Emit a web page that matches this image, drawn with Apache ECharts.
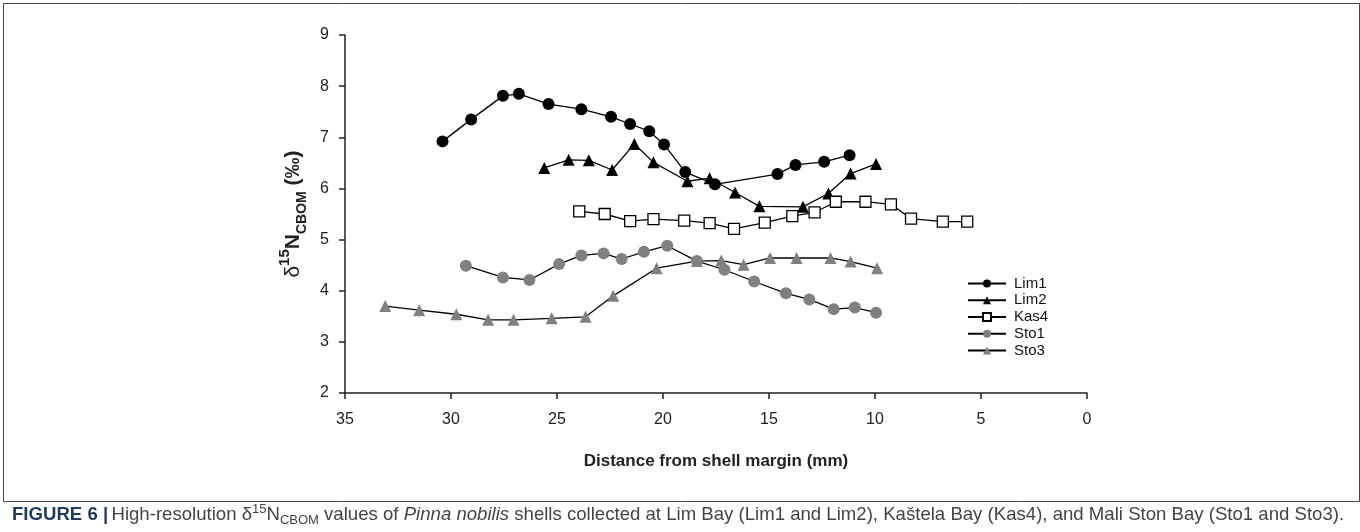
<!DOCTYPE html>
<html>
<head>
<meta charset="UTF-8">
<title>Pinna nobilis d15N</title>
<script src="https://cdn.jsdelivr.net/npm/echarts@6/dist/echarts.min.js"></script>
<style>
  html, body { margin: 0; padding: 0; background: #fff; }
  #main { width: 1360px; height: 532px; }
</style>
</head>
<body>
<div id="main"></div>
<script>
// distance from shell margin (mm) and d15N values
var lim1X = [30.4, 29.05, 27.55, 26.8, 25.4, 23.85, 22.45, 21.55, 20.65, 19.95, 18.95, 17.55, 14.6, 13.75, 12.4, 11.2];
var lim1Y = [6.92, 7.35, 7.81, 7.85, 7.65, 7.55, 7.40, 7.26, 7.12, 6.86, 6.32, 6.08, 6.28, 6.46, 6.52, 6.65];

var lim2X = [25.6, 24.45, 23.5, 22.4, 21.35, 20.45, 18.85, 17.8, 16.6, 15.45, 13.4, 12.2, 11.15, 9.95];
var lim2Y = [6.40, 6.56, 6.55, 6.36, 6.87, 6.51, 6.14, 6.20, 5.92, 5.65, 5.64, 5.90, 6.29, 6.48];

var kas4X = [23.95, 22.75, 21.55, 20.45, 19.0, 17.8, 16.65, 15.2, 13.9, 12.85, 11.85, 10.45, 9.25, 8.3, 6.8, 5.65];
var kas4Y = [5.55, 5.50, 5.36, 5.40, 5.37, 5.32, 5.21, 5.33, 5.46, 5.53, 5.74, 5.74, 5.69, 5.41, 5.35, 5.35];

var sto1X = [29.3, 27.55, 26.3, 24.9, 23.85, 22.8, 21.95, 20.9, 19.8, 18.4, 17.1, 15.7, 14.2, 13.1, 11.95, 10.95, 9.95];
var sto1Y = [4.49, 4.26, 4.21, 4.52, 4.69, 4.73, 4.62, 4.76, 4.88, 4.58, 4.41, 4.18, 3.95, 3.83, 3.64, 3.67, 3.57];

var sto3X = [33.1, 31.5, 29.75, 28.25, 27.05, 25.25, 23.65, 22.35, 20.3, 18.4, 17.25, 16.2, 14.95, 13.7, 12.1, 11.15, 9.9];
var sto3Y = [3.70, 3.62, 3.54, 3.43, 3.43, 3.46, 3.49, 3.90, 4.44, 4.58, 4.59, 4.51, 4.64, 4.64, 4.64, 4.57, 4.44];

function pairs(xs, ys) {
    return xs.map(function (x, i) { return [x, ys[i]]; });
}

var myChart = echarts.init(document.getElementById('main'));

var lineStyle = { color: '#000', width: 1.3 };

var option = {
    animation: false,
    textStyle: { fontFamily: 'Liberation Sans, Arial, sans-serif' },
    grid: { left: 345, right: 273, top: 35, bottom: 139, containLabel: false },
    legend: {
        orient: 'vertical',
        left: 962,
        top: 270,
        itemWidth: 38,
        itemHeight: 10,
        itemGap: 0,
        textStyle: { fontSize: 15, color: '#111', lineHeight: 16.8, padding: [0, 0, 0, 3] },
        data: ['Lim1', 'Lim2', 'Kas4', 'Sto1', 'Sto3']
    },
    xAxis: {
        type: 'value',
        inverse: true,
        min: 0,
        max: 35,
        interval: 5,
        splitLine: { show: false },
        axisLine: { onZero: false, lineStyle: { color: '#222', width: 1.5 } },
        axisTick: { length: 6, lineStyle: { color: '#222', width: 1.5 } },
        axisLabel: { fontSize: 16, color: '#222', margin: 19 },
        name: 'Distance from shell margin (mm)',
        nameLocation: 'middle',
        nameGap: 60,
        nameTextStyle: { fontSize: 17, fontWeight: 'bold', color: '#222' }
    },
    yAxis: {
        type: 'value',
        min: 2,
        max: 9,
        interval: 1,
        splitLine: { show: false },
        axisLine: { onZero: false, lineStyle: { color: '#222', width: 1.5 } },
        axisTick: { length: 6, lineStyle: { color: '#222', width: 1.5 } },
        axisLabel: { fontSize: 16, color: '#222', margin: 16 },
        name: '{d|δ}{sup|15}{b|N}{sub|CBOM}{b| (‰)}',
        nameLocation: 'middle',
        nameRotate: 90,
        nameGap: 34,
        nameTextStyle: {
            color: '#222',
            rich: {
                d: { fontSize: 21, color: '#222', lineHeight: 32, verticalAlign: 'middle' },
                sup: { fontSize: 15, fontWeight: 'bold', color: '#222', verticalAlign: 'top', lineHeight: 32 },
                b: { fontSize: 21, fontWeight: 'bold', color: '#222', lineHeight: 32, verticalAlign: 'middle' },
                sub: { fontSize: 14, fontWeight: 'bold', color: '#222', verticalAlign: 'bottom', lineHeight: 32 }
            }
        }
    },
    series: [
        {
            name: 'Lim1', type: 'line', data: pairs(lim1X, lim1Y),
            symbol: 'circle', symbolSize: 12,
            itemStyle: { color: '#000' }, lineStyle: lineStyle
        },
        {
            name: 'Lim2', type: 'line', data: pairs(lim2X, lim2Y),
            symbol: 'triangle', symbolSize: 12,
            itemStyle: { color: '#000' }, lineStyle: lineStyle
        },
        {
            name: 'Kas4', type: 'line', data: pairs(kas4X, kas4Y),
            symbol: 'rect', symbolSize: 11,
            itemStyle: { color: '#fff', borderColor: '#000', borderWidth: 1.3 }, lineStyle: lineStyle
        },
        {
            name: 'Sto1', type: 'line', data: pairs(sto1X, sto1Y),
            symbol: 'circle', symbolSize: 12,
            itemStyle: { color: '#808080' }, lineStyle: lineStyle
        },
        {
            name: 'Sto3', type: 'line', data: pairs(sto3X, sto3Y),
            symbol: 'triangle', symbolSize: 12,
            itemStyle: { color: '#808080' }, lineStyle: lineStyle
        }
    ],
    graphic: [
        {
            type: 'rect', left: 1, top: 1, silent: true,
            shape: { width: 1356, height: 498 },
            style: { fill: 'none', stroke: '#444', lineWidth: 1 }
        },
        {
            type: 'text', left: 12, top: 503, silent: true,
            style: {
                text: '{f|FIGURE 6 |} {t|High-resolution δ}{s|15}{t|N}{u|CBOM}{t| values of }{i|Pinna nobilis}{t| shells collected at Lim Bay (Lim1 and Lim2), Kaštela Bay (Kas4), and Mali Ston Bay (Sto1 and Sto3).}',
                rich: {
                    f: { fontSize: 18.6, fontWeight: 'bold', fill: '#1f3a5f', lineHeight: 24, verticalAlign: 'middle' },
                    t: { fontSize: 18.6, fill: '#444', lineHeight: 24, verticalAlign: 'middle' },
                    i: { fontSize: 18.6, fontStyle: 'italic', fill: '#444', lineHeight: 24, verticalAlign: 'middle' },
                    s: { fontSize: 13, fill: '#444', lineHeight: 24, verticalAlign: 'top' },
                    u: { fontSize: 13, fill: '#444', lineHeight: 24, verticalAlign: 'bottom' }
                }
            }
        }
    ]
};

myChart.setOption(option);
</script>
</body>
</html>
